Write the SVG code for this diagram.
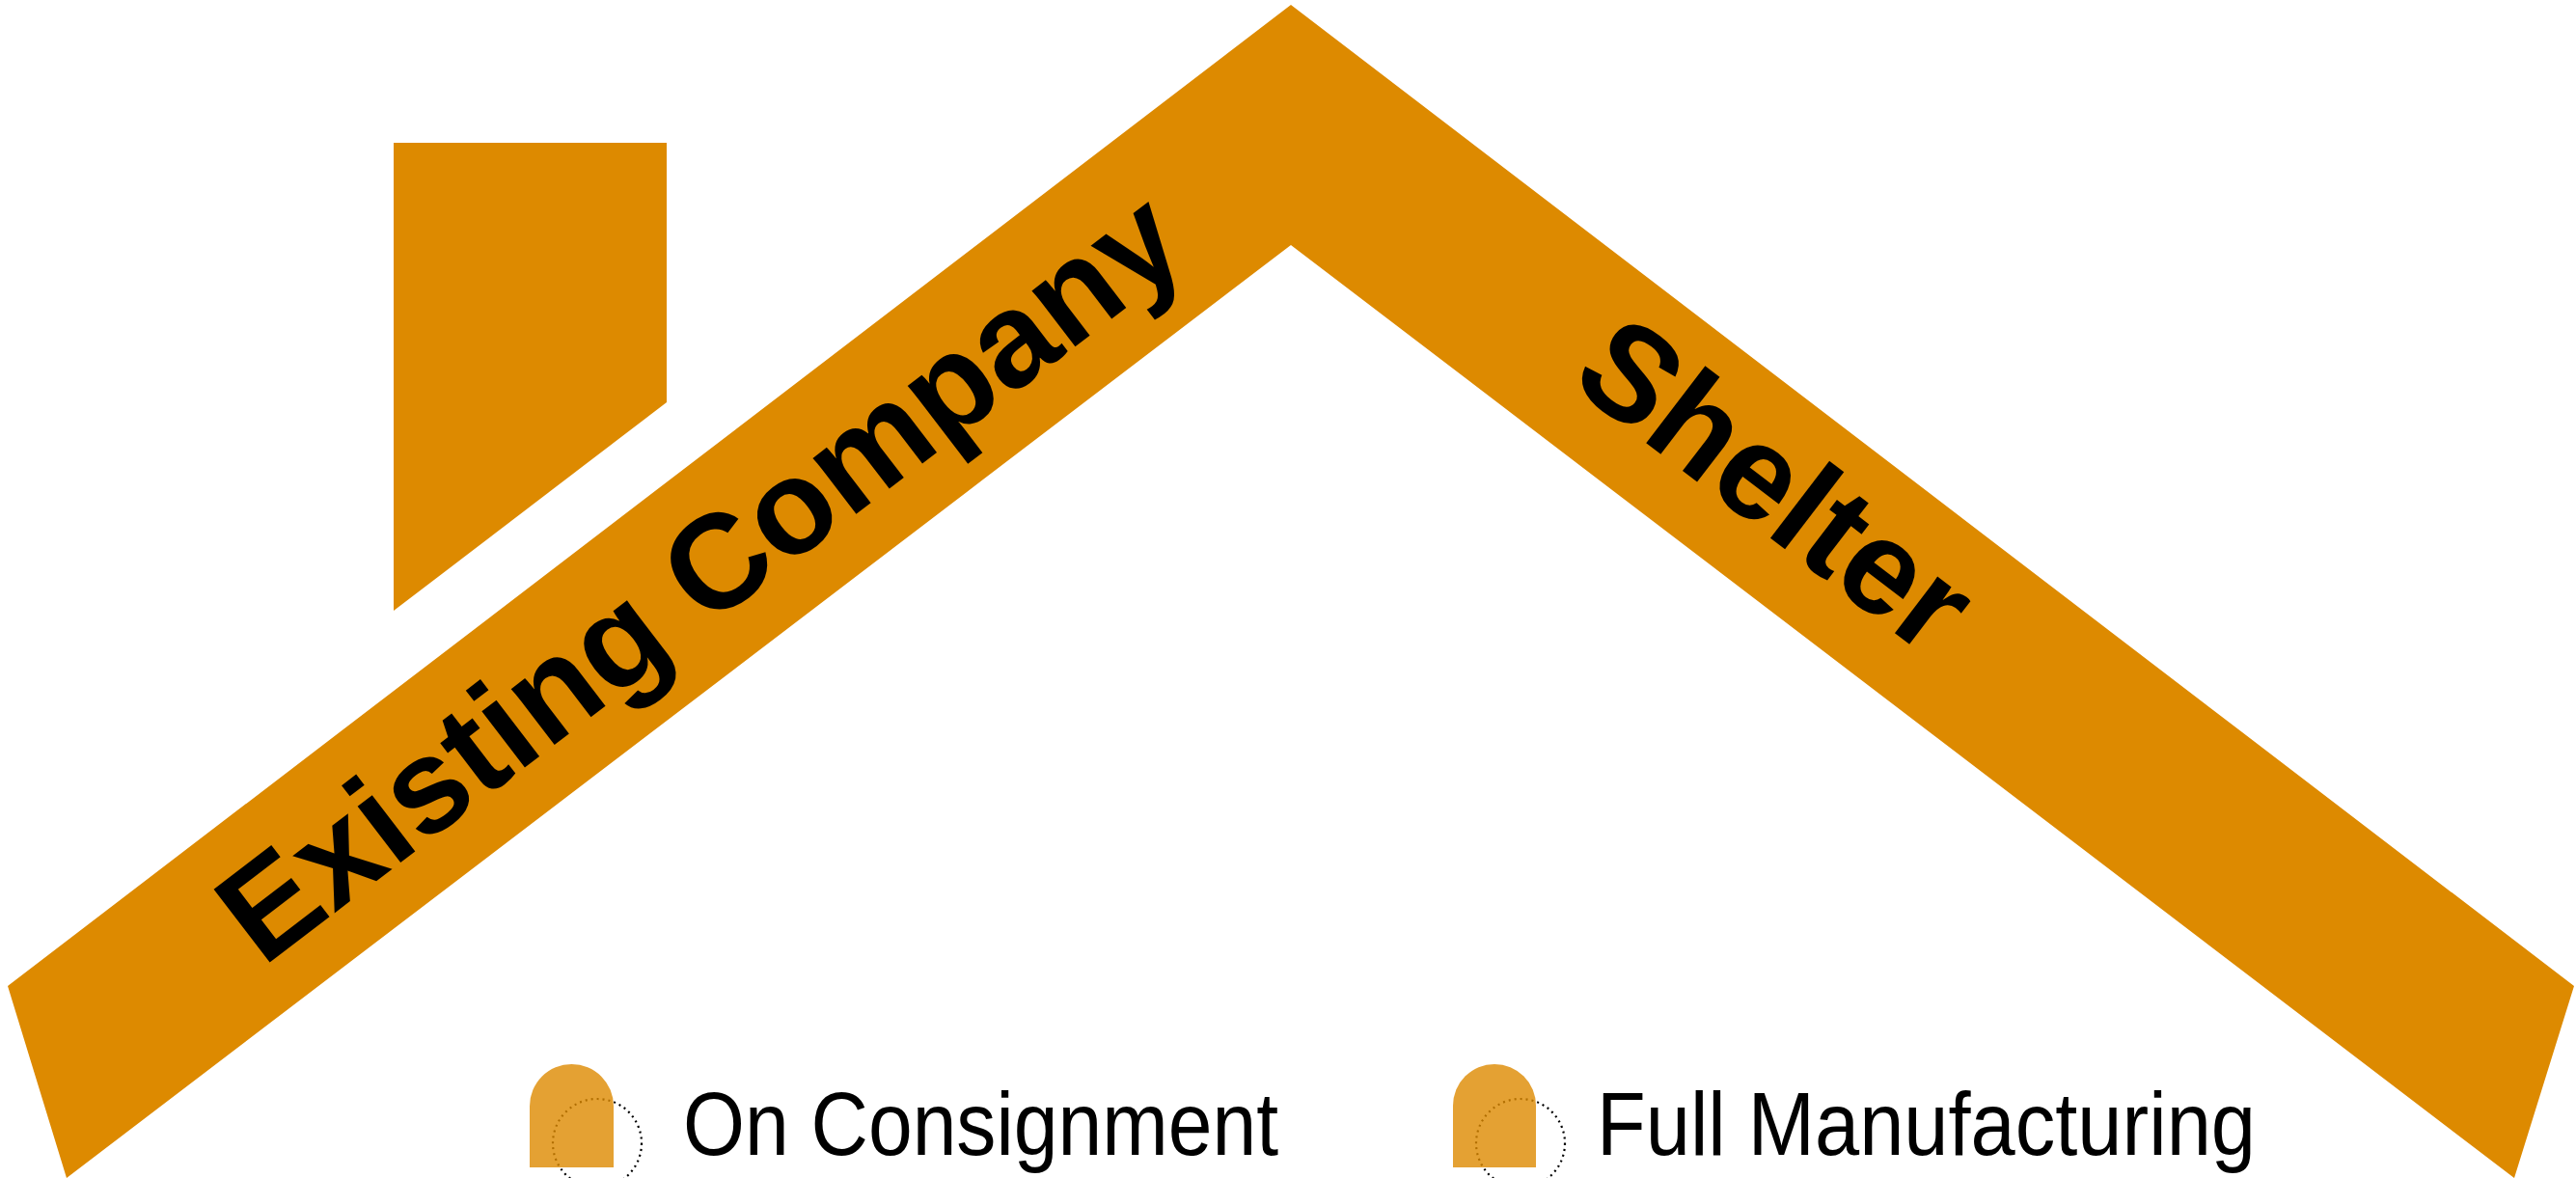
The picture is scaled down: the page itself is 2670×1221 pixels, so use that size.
<svg xmlns="http://www.w3.org/2000/svg" width="2670" height="1221" viewBox="0 0 2670 1221">
<defs>
<style>
.roof{fill:#DD8A00;}
.beam-label{font-family:"Liberation Sans",Arial,sans-serif;font-weight:bold;font-size:139px;fill:#000;}
.legend-label{font-family:"Liberation Sans Narrow","Liberation Sans",Arial,sans-serif;font-size:93px;fill:#000;}
.legend-icon{fill:#DD8A00;fill-opacity:0.8;}
.legend-ring{fill:none;stroke:#000;stroke-width:2.2;stroke-dasharray:2 4;}
</style>
</defs>
<rect width="2670" height="1221" fill="#fff"/>
<g id="roof">
<polygon class="roof" points="8,1022 1338,5 2668,1022 2606,1221 1338,254 69,1221"/>
</g>
<g id="chimney">
<polygon class="roof" points="408,148 691,148 691,417 408,633"/>
</g>
<g id="existing-company">
<text class="beam-label" transform="translate(754,635) rotate(-37.4)" text-anchor="middle">Existing Company</text>
</g>
<g id="shelter">
<text class="beam-label" transform="translate(1812,540) rotate(37.4)" text-anchor="middle">Shelter</text>
</g>
<g id="legend-consignment">
<circle class="legend-ring" cx="619" cy="1185" r="46"/>
<path class="legend-icon" d="M549,1210 V1146.5 A43.5,43.5 0 0 1 636,1146.5 V1210 Z"/>
<text class="legend-label" x="708" y="1197" textLength="617" lengthAdjust="spacingAndGlyphs">On Consignment</text>
</g>
<g id="legend-manufacturing">
<circle class="legend-ring" cx="1576" cy="1185" r="46"/>
<path class="legend-icon" d="M1506,1210 V1146 A43,43 0 0 1 1592,1146 V1210 Z"/>
<text class="legend-label" x="1655" y="1197" textLength="683" lengthAdjust="spacingAndGlyphs">Full Manufacturing</text>
</g>
<g id="connectors"></g>
</svg>
